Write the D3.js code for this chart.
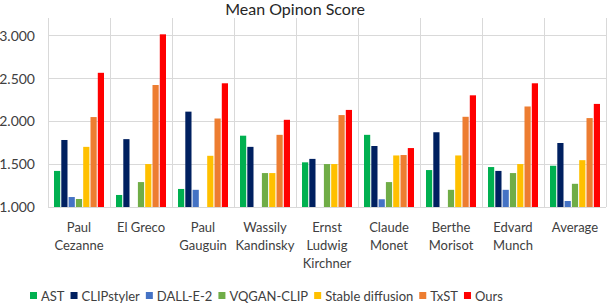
<!DOCTYPE html>
<html>
<head>
<meta charset="utf-8">
<script src="https://d3js.org/d3.v7.min.js"></script>
<style>
  body { margin: 0; background: #fff; font-family: Lato, "Open Sans", sans-serif; }
  .grid line { stroke: #d9d9d9; stroke-width: 1; }
  .tick text { fill: #404040; }
</style>
</head>
<body>
<svg width="608" height="304"></svg>
<script>
// chart data
var categories = ["Paul Cezanne", "El Greco", "Paul Gauguin", "Wassily Kandinsky",
  "Ernst Ludwig Kirchner", "Claude Monet", "Berthe Morisot", "Edvard Munch", "Average"];
var labelLines = [["Paul", "Cezanne"], ["El Greco"], ["Paul", "Gauguin"], ["Wassily", "Kandinsky"],
  ["Ernst", "Ludwig", "Kirchner"], ["Claude", "Monet"], ["Berthe", "Morisot"], ["Edvard", "Munch"], ["Average"]];
var seriesNames = ["AST", "CLIPstyler", "DALL-E-2", "VQGAN-CLIP", "Stable diffusion", "TxST", "Ours"];
var colors = ["#00b050", "#002060", "#4472c4", "#70ad47", "#ffc000", "#ed7d31", "#ff0000"];

var AST        = [1.42, 1.14, 1.21, 1.83, 1.52, 1.84, 1.43, 1.465, 1.48];
var CLIPstyler = [1.78, 1.79, 2.11, 1.70, 1.56, 1.71, 1.87, 1.42, 1.745];
var DALLE2     = [1.116, null, 1.20, null, null, 1.09, null, 1.20, 1.07];
var VQGAN      = [1.093, 1.29, null, 1.395, 1.50, 1.29, 1.20, 1.395, 1.27];
var StableDiff = [1.70, 1.50, 1.596, 1.395, 1.50, 1.60, 1.60, 1.50, 1.545];
var TxST       = [2.047, 2.42, 2.03, 1.84, 2.07, 1.605, 2.05, 2.17, 2.035];
var Ours       = [2.562, 3.01, 2.44, 2.015, 2.13, 1.686, 2.30, 2.44, 2.20];
var seriesValues = [AST, CLIPstyler, DALLE2, VQGAN, StableDiff, TxST, Ours];
var yTicks = [1.0, 1.5, 2.0, 2.5, 3.0];

var svg = d3.select("svg");
var plotLeft = 48, plotRight = 606, plotTop = 18, plotBottom = 207;

var x = d3.scaleBand().domain(categories).range([plotLeft, plotRight]);
var xs = d3.scaleBand().domain(seriesNames).range([6, x.bandwidth() - 6]).paddingInner(0.15);
var y = d3.scaleLinear().domain([1, 3.2]).range([plotBottom, plotTop]);

// horizontal gridlines
svg.append("g").attr("class", "grid")
  .selectAll("line").data(yTicks).join("line")
  .attr("x1", plotLeft).attr("x2", plotRight)
  .attr("y1", function(d) { return Math.round(y(d)) + 0.5; })
  .attr("y2", function(d) { return Math.round(y(d)) + 0.5; });

// vertical category separators
var seps = categories.map(function(c) { return x(c); }).concat([plotRight]);
svg.append("g").attr("class", "grid")
  .selectAll("line").data(seps).join("line")
  .attr("x1", function(d) { return Math.round(d) + 0.5; })
  .attr("x2", function(d) { return Math.round(d) + 0.5; })
  .attr("y1", plotTop).attr("y2", plotBottom);

// y axis labels
var yAxis = d3.axisLeft(y).tickValues(yTicks).tickFormat(d3.format(".3f")).tickSize(0).tickPadding(0);
var ya = svg.append("g").attr("transform", "translate(35,0)").call(yAxis);
ya.select(".domain").remove();
ya.selectAll("text").style("font-size", "14px").style("font-family", "Lato, sans-serif").attr("dy", "0.35em");

// bars
seriesValues.forEach(function(vals, si) {
  svg.append("g").selectAll("rect")
    .data(vals.map(function(v, i) { return {c: categories[i], v: v}; }).filter(function(d) { return d.v != null; }))
    .join("rect")
    .attr("x", function(d) { return x(d.c) + xs(seriesNames[si]); })
    .attr("width", xs.bandwidth())
    .attr("y", function(d) { return y(d.v); })
    .attr("height", function(d) { return y(1) - y(d.v); })
    .attr("fill", colors[si]);
});

// x labels
var xl = svg.append("g");
labelLines.forEach(function(lines, i) {
  var t = xl.append("text")
    .attr("x", x(categories[i]) + x.bandwidth() / 2)
    .attr("y", 232)
    .attr("text-anchor", "middle")
    .style("font-size", "13px").attr("fill", "#404040");
  lines.forEach(function(l, j) {
    t.append("tspan").attr("x", x(categories[i]) + x.bandwidth() / 2)
      .attr("dy", j === 0 ? 0 : 18).text(l);
  });
});

// title
svg.append("text").attr("x", 295).attr("y", 15).attr("text-anchor", "middle")
  .style("font-size", "16px").attr("fill", "#262626").text("Mean Opinon Score");

// legend
var lg = svg.append("g");
var lx = 30;
seriesNames.forEach(function(n, i) {
  lg.append("rect").attr("x", lx).attr("y", 292).attr("width", 7).attr("height", 7).attr("fill", colors[i]);
  var t = lg.append("text").attr("x", lx + 11).attr("y", 301)
    .style("font-size", "13px").attr("fill", "#404040").text(n);
  lx += 11 + t.node().getComputedTextLength() + 6;
});
</script>
</body>
</html>
